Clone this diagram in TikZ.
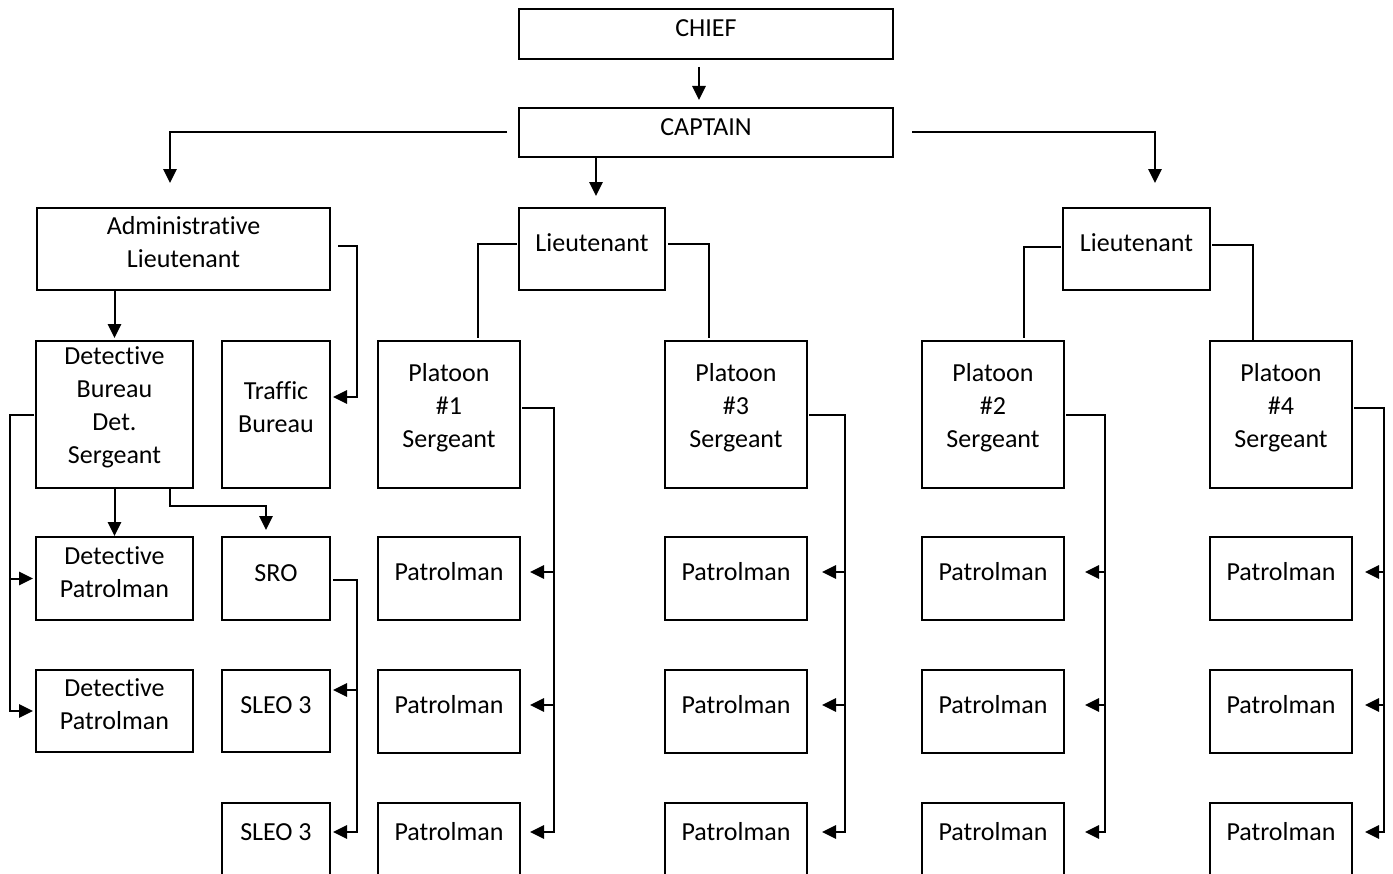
\documentclass[tikz,border=0pt]{standalone}
\usepackage{fontspec}
\setmainfont{Carlito}[Ligatures=NoCommon]
\usetikzlibrary{arrows.meta,calc}

\tikzset{every picture/.style={line width=0.75pt}}
\tikzset{
  rankbox/.style 2 args={draw, line width=1.5pt, inner sep=0pt, outer sep=0pt, minimum width={#1*0.75pt}, minimum height={#2*0.75pt}},
  rank/.style={align=center, inner sep=0pt, font=\fontsize{19.5}{24.75}\selectfont},
  link/.style={line width=1.2pt},
  feed/.style={line width=1.5pt, -{Triangle[length=10.5pt,width=10pt]}}
}

\begin{document}
\begin{tikzpicture}[x=0.75pt,y=0.75pt,yscale=-1,xscale=1]
	\path[use as bounding box, clip] (0,0) rectangle (1393,874);
	\fill[white] (0,0) rectangle (1393,874);

	%Shape: Rectangle [chief]
	\node[rankbox={374}{50}] (chief) at (706,34) {};
	%Shape: Rectangle [captain]
	\node[rankbox={374}{49}] (cap) at (706,132.5) {};
	%Shape: Rectangle [lieutenants]
	\node[rankbox={293}{82}] (adm) at (183.5,249) {};
	\node[rankbox={146}{82}] (ltA) at (592,249) {};
	\node[rankbox={147}{82}] (ltB) at (1136.5,249) {};
	%Shape: Rectangle [detective side]
	\node[rankbox={157}{147}] (det) at (114.5,414.5) {};
	\node[rankbox={108}{147}] (trf) at (276,414.5) {};
	\node[rankbox={157}{83}] (dpa) at (114.5,578.5) {};
	\node[rankbox={108}{83}] (sro) at (276,578.5) {};
	\node[rankbox={157}{82}] (dpb) at (114.5,711) {};
	\node[rankbox={108}{82}] (sla) at (276,711) {};
	\node[rankbox={108}{82}] (slb) at (276,844) {};

	% Text Node
	\node[rank] (chiefT) at (706,28) {CHIEF};
	% Text Node
	\node[rank] (capT) at (706,127) {CAPTAIN};
	% Text Node
	\node[rank] (admT) at (183.5,242.5) {Administrative\\Lieutenant};
	% Text Node
	\node[rank] (ltAT) at (592,243) {Lieutenant};
	% Text Node
	\node[rank] (ltBT) at (1136.5,243) {Lieutenant};
	% Text Node
	\node[rank] (detT) at (114.5,407) {Detective\\Bureau\\Det.\\Sergeant};
	% Text Node
	\node[rank] (trfT) at (276,407.5) {Traffic\\Bureau};
	% Text Node
	\node[rank] (dpaT) at (114.5,572.5) {Detective\\Patrolman};
	% Text Node
	\node[rank] (sroT) at (276,573) {SRO};
	% Text Node
	\node[rank] (dpbT) at (114.5,704.5) {Detective\\Patrolman};
	% Text Node
	\node[rank] (slaT) at (276,705) {SLEO 3};
	% Text Node
	\node[rank] (slbT) at (276,832) {SLEO 3};

	%Platoons with their patrolmen
	\foreach \px/\n/\dy/\dx/\gap in {449/1/-6.5/34/7.5pt, 736/3/0/38/11.25pt, 993/2/0/41/15.75pt, 1281/4/-6.5/32/9.75pt}{
		\node[rankbox={142}{147}] (pl\n) at (\px,414.5) {};
		\node[rank] (pl\n T) at (\px,407.5) {Platoon\\\#\n\\Sergeant};
		\foreach \r/\cy/\ty in {a/578.5/572, b/711/705, c/844/832}{
			\node[rankbox={142}{83}] (pa\n\r) at (\px,\cy) {};
			\node[rank] (pa\n\r T) at (\px,\ty) {Patrolman};
		}
		\coordinate (tr\n) at ($(pl\n.east)+(\dx,\dy)$);
		\draw[feed, shorten <=1.5pt, shorten >=\gap] (pl\n.east |- tr\n) -- (tr\n) |- (pa\n c.east |- pa\n cT);
		\draw[feed, shorten >=\gap] (tr\n |- pa\n aT) -- (pa\n a.east |- pa\n aT);
		\draw[feed, shorten >=\gap] (tr\n |- pa\n bT) -- (pa\n b.east |- pa\n bT);
	}

	%Straight Lines [chief to captain]
	\draw[feed, shorten <=6pt, shorten >=6pt] ($(chief.south)+(-7,0)$) -- ($(cap.north)+(-7,0)$);
	%Straight Lines [captain to lieutenants]
	\draw[feed, shorten >=9pt] ($(cap.south)+(-110,0)$) -- ($(ltA.north)+(4,0)$);
	\draw[feed, shorten <=9pt, shorten >=18.75pt] (cap.west) -| ($(adm.north)+(-13.5,0)$);
	\draw[feed, shorten <=14.25pt, shorten >=18.75pt] (cap.east) -| ($(ltB.north)+(18.5,0)$);
	%Straight Lines [lieutenants to sergeants]
	\draw[link, shorten <=1.5pt, shorten >=2.25pt] ($(ltA.west)+(0,-5)$) -| ($(pl1.north)+(29,0)$);
	\draw[link, shorten <=2.25pt, shorten >=2.25pt] ($(ltA.east)+(0,-5)$) -| ($(pl3.north)+(-27,0)$);
	\draw[link, shorten <=1.5pt, shorten >=2.25pt] ($(ltB.west)+(0,-2)$) -| ($(pl2.north)+(31,0)$);
	\draw[link, shorten <=1.5pt, shorten >=0.75pt] ($(ltB.east)+(0,-4)$) -| ($(pl4.north)+(-28,0)$);
	%Straight Lines [administrative branch]
	\draw[feed, shorten >=2.25pt] (adm.south -| det.north) -- (det.north);
	\draw[feed, shorten <=6pt, shorten >=2.25pt] ($(adm.east)+(0,-3)$) -- ++(27,0) |- ($(trf.east)+(0,-17.5)$);
	%Straight Lines [detective bureau]
	\coordinate (dl) at ($(det.west)+(-26,0)$);
	\draw[feed, shorten <=1.5pt, shorten >=2.25pt] (det.west) -- (dl) |- (dpb.west);
	\draw[feed, shorten >=2.25pt] (dl |- dpa.west) -- (dpa.west);
	\draw[feed, shorten >=0.75pt] (det.south) -- (dpa.north);
	\draw[feed, shorten >=5.25pt] ($(det.south)+(55.5,0)$) -- ++(0,18) -| ($(sro.north)+(-10,0)$);
	%Straight Lines [school officers]
	\coordinate (sr) at ($(sro.east)+(27,1.5)$);
	\coordinate (s1) at ($(sla.east)+(0,-21)$);
	\draw[feed, shorten <=2.25pt, shorten >=2.25pt] (sro.east |- sr) -- (sr) |- ($(slb.east)+(0,-12)$);
	\draw[feed, shorten >=2.25pt] (sr |- s1) -- (s1);

\end{tikzpicture}
\end{document}
